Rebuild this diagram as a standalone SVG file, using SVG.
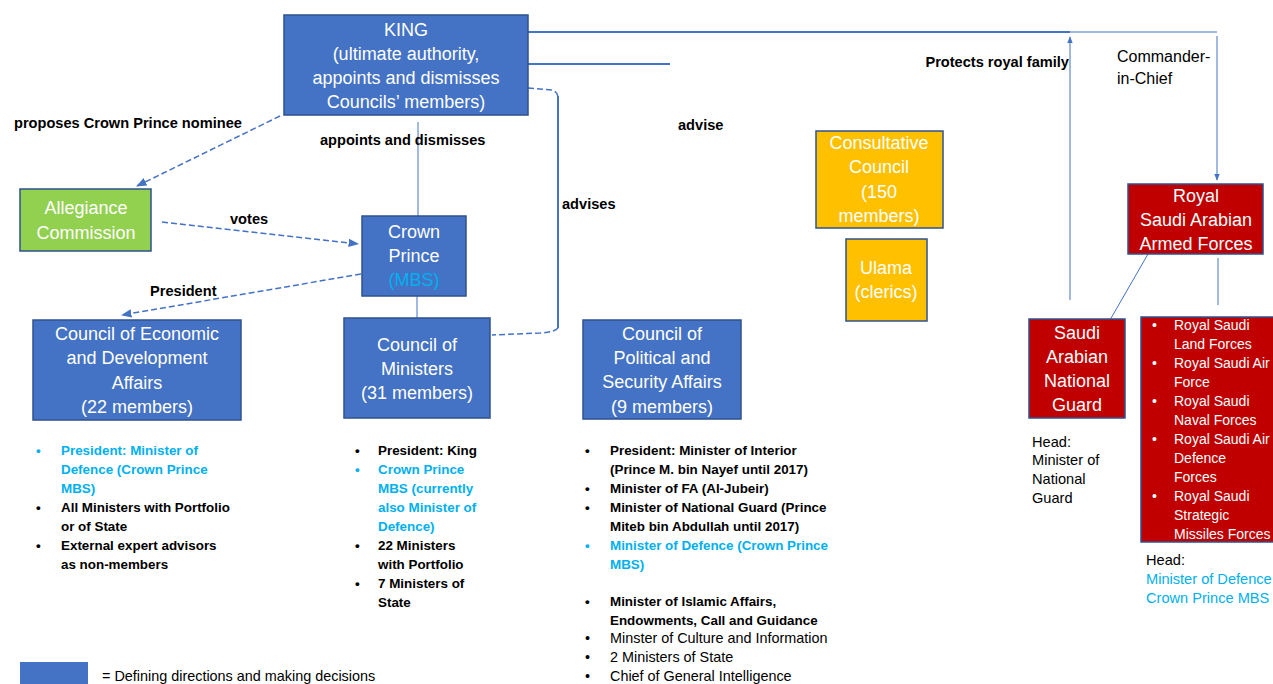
<svg xmlns="http://www.w3.org/2000/svg" width="1273" height="684" viewBox="0 0 1273 684">
<defs>
<style>
.box{fill:#4472C4;stroke:#2F528F;stroke-width:1.5}
.green{fill:#92D050;stroke:#2F528F;stroke-width:1.5}
.orange{fill:#FFC000;stroke:#2F528F;stroke-width:1.5}
.red{fill:#C00000;stroke:#2F528F;stroke-width:1.5}
.t{font-family:"Liberation Sans",Arial,sans-serif;font-size:18px;fill:#fff;text-anchor:middle}
.lbl{font-family:"Liberation Sans",Arial,sans-serif;font-size:14.6px;font-weight:bold;fill:#000}
.li{font-family:"Liberation Sans",Arial,sans-serif;font-size:13.4px;font-weight:bold;fill:#000}
.ln{font-family:"Liberation Sans",Arial,sans-serif;font-size:14.4px;fill:#000}
.hd{font-family:"Liberation Sans",Arial,sans-serif;font-size:14.6px;fill:#000}
.wl{font-family:"Liberation Sans",Arial,sans-serif;font-size:14px;fill:#fff}
.blue{fill:#00B0F0}
.c{fill:none;stroke:#4472C4;stroke-width:1}
.c2{fill:none;stroke:#4472C4;stroke-width:2}
.d{fill:none;stroke:#4472C4;stroke-width:1.5;stroke-dasharray:6 3}
</style>
<marker id="ah" viewBox="0 0 10 10" refX="9" refY="5" markerWidth="7" markerHeight="7" orient="auto-start-reverse">
<path d="M0,1 L10,5 L0,9 z" fill="#4472C4"/>
</marker>
</defs>
<rect width="1273" height="684" fill="#fff"/>

<g id="connectors">
<line class="c2" x1="528" y1="32" x2="1070" y2="32"/>
<line class="c" x1="1070" y1="32" x2="1217" y2="32"/>
<line class="c2" x1="528" y1="64" x2="670" y2="64"/>
<line class="c" x1="1070" y1="300" x2="1070" y2="37" marker-end="url(#ah)"/>
<line class="c" x1="1217" y1="36" x2="1217" y2="180" marker-end="url(#ah)"/>
<path class="d" d="M528,88 L552,90 Q558,92 558,98"/>
<line class="c2" x1="558" y1="96" x2="558" y2="328"/>
<path class="d" d="M558,328 Q555,332 540,333 L492,335"/>
<line class="c" x1="418" y1="122" x2="418" y2="216"/>
<line class="c" x1="417" y1="296" x2="417" y2="318"/>
<line class="d" x1="280" y1="116" x2="137" y2="186" marker-end="url(#ah)"/>
<line class="d" x1="162" y1="222" x2="358" y2="244" marker-end="url(#ah)"/>
<line class="d" x1="361" y1="274" x2="122" y2="315" marker-end="url(#ah)"/>
<line class="c" x1="1148" y1="254" x2="1110" y2="320"/>
<line class="c" x1="1218" y1="258" x2="1218" y2="305"/>
</g>

<g id="labels">
<text class="lbl" x="14" y="128">proposes Crown Prince nominee</text>
<text class="lbl" x="320" y="145">appoints and dismisses</text>
<text class="lbl" x="678" y="130">advise</text>
<text class="lbl" x="562" y="209">advises</text>
<text class="lbl" x="230" y="224">votes</text>
<text class="lbl" x="150" y="296">President</text>
<text class="lbl" x="1069" y="67" text-anchor="end">Protects royal family</text>
<text class="hd" x="1117" y="62" style="font-size:16px">Commander-</text>
<text class="hd" x="1117" y="84" style="font-size:16px">in-Chief</text>
</g>

<g id="king">
<rect class="box" x="284" y="15" width="244" height="100"/>
<text class="t" x="406" y="36">KING</text>
<text class="t" x="406" y="60">(ultimate authority,</text>
<text class="t" x="406" y="84">appoints and dismisses</text>
<text class="t" x="406" y="108">Councils’ members)</text>
</g>

<g id="allegiance">
<rect class="green" x="20" y="189" width="131" height="62"/>
<text class="t" x="86" y="214">Allegiance</text>
<text class="t" x="86" y="239">Commission</text>
</g>

<g id="crownprince">
<rect class="box" x="362" y="216" width="104" height="80"/>
<text class="t" x="414" y="238">Crown</text>
<text class="t" x="414" y="262">Prince</text>
<text class="t" x="414" y="286" style="fill:#00B0F0">(MBS)</text>
</g>

<g id="ceda">
<rect class="box" x="33" y="320" width="208" height="100"/>
<text class="t" x="137" y="340">Council of Economic</text>
<text class="t" x="137" y="364">and Development</text>
<text class="t" x="137" y="389">Affairs</text>
<text class="t" x="137" y="413">(22 members)</text>
</g>

<g id="ministers">
<rect class="box" x="344" y="318" width="146" height="100"/>
<text class="t" x="417" y="351">Council of</text>
<text class="t" x="417" y="375">Ministers</text>
<text class="t" x="417" y="399">(31 members)</text>
</g>

<g id="cpsa">
<rect class="box" x="583" y="320" width="158" height="99"/>
<text class="t" x="662" y="340">Council of</text>
<text class="t" x="662" y="364">Political and</text>
<text class="t" x="662" y="388">Security Affairs</text>
<text class="t" x="662" y="413">(9 members)</text>
</g>

<g id="consultative">
<rect class="orange" x="816" y="131" width="127" height="97"/>
<text class="t" x="879" y="149">Consultative</text>
<text class="t" x="879" y="173">Council</text>
<text class="t" x="879" y="198">(150</text>
<text class="t" x="879" y="222">members)</text>
</g>

<g id="ulama">
<rect class="orange" x="846" y="239" width="81" height="82"/>
<text class="t" x="886" y="274">Ulama</text>
<text class="t" x="886" y="298">(clerics)</text>
</g>

<g id="armedforces">
<rect class="red" x="1128" y="184" width="135" height="70"/>
<text class="t" x="1196" y="202">Royal</text>
<text class="t" x="1196" y="226">Saudi Arabian</text>
<text class="t" x="1196" y="250">Armed Forces</text>
</g>

<g id="nationalguard">
<rect class="red" x="1029" y="319" width="96" height="99"/>
<text class="t" x="1077" y="339">Saudi</text>
<text class="t" x="1077" y="363">Arabian</text>
<text class="t" x="1077" y="387">National</text>
<text class="t" x="1077" y="411">Guard</text>
<text class="hd" x="1032" y="447">Head:</text>
<text class="hd" x="1032" y="465">Minister of</text>
<text class="hd" x="1032" y="484">National</text>
<text class="hd" x="1032" y="503">Guard</text>
</g>

<g id="forceslist">
<rect class="red" x="1141" y="317" width="134" height="225"/>
<g class="wl">
<text x="1152" y="330">•</text><text x="1174" y="330">Royal Saudi</text>
<text x="1174" y="349">Land Forces</text>
<text x="1152" y="368">•</text><text x="1174" y="368">Royal Saudi Air</text>
<text x="1174" y="387">Force</text>
<text x="1152" y="406">•</text><text x="1174" y="406">Royal Saudi</text>
<text x="1174" y="425">Naval Forces</text>
<text x="1152" y="444">•</text><text x="1174" y="444">Royal Saudi Air</text>
<text x="1174" y="463">Defence</text>
<text x="1174" y="482">Forces</text>
<text x="1152" y="501">•</text><text x="1174" y="501">Royal Saudi</text>
<text x="1174" y="520">Strategic</text>
<text x="1174" y="539">Missiles Forces</text>
</g>
<text class="hd" x="1146" y="565">Head:</text>
<text class="hd blue" x="1146" y="584">Minister of Defence</text>
<text class="hd blue" x="1146" y="603">Crown Prince MBS</text>
</g>

<g id="ceda-list">
<text class="li blue" x="36" y="455">•</text><text class="li blue" x="61" y="455">President: Minister of</text>
<text class="li blue" x="61" y="474">Defence (Crown Prince</text>
<text class="li blue" x="61" y="493">MBS)</text>
<text class="li" x="36" y="512">•</text><text class="li" x="61" y="512">All Ministers with Portfolio</text>
<text class="li" x="61" y="531">or of State</text>
<text class="li" x="36" y="550">•</text><text class="li" x="61" y="550">External expert advisors</text>
<text class="li" x="61" y="569">as non-members</text>
</g>

<g id="ministers-list">
<text class="li" x="355" y="455">•</text><text class="li" x="378" y="455">President: King</text>
<text class="li blue" x="355" y="474">•</text><text class="li blue" x="378" y="474">Crown Prince</text>
<text class="li blue" x="378" y="493">MBS (currently</text>
<text class="li blue" x="378" y="512">also Minister of</text>
<text class="li blue" x="378" y="531">Defence)</text>
<text class="li" x="355" y="550">•</text><text class="li" x="378" y="550">22 Ministers</text>
<text class="li" x="378" y="569">with Portfolio</text>
<text class="li" x="355" y="588">•</text><text class="li" x="378" y="588">7 Ministers of</text>
<text class="li" x="378" y="607">State</text>
</g>

<g id="cpsa-list">
<text class="li" x="585" y="455">•</text><text class="li" x="610" y="455">President: Minister of Interior</text>
<text class="li" x="610" y="474">(Prince M. bin Nayef until 2017)</text>
<text class="li" x="585" y="493">•</text><text class="li" x="610" y="493">Minister of FA (Al-Jubeir)</text>
<text class="li" x="585" y="512">•</text><text class="li" x="610" y="512">Minister of National Guard (Prince</text>
<text class="li" x="610" y="531">Miteb bin Abdullah until 2017)</text>
<text class="li blue" x="585" y="550">•</text><text class="li blue" x="610" y="550">Minister of Defence (Crown Prince</text>
<text class="li blue" x="610" y="569">MBS)</text>
<text class="li" x="585" y="606">•</text><text class="li" x="610" y="606">Minister of Islamic Affairs,</text>
<text class="li" x="610" y="625">Endowments, Call and Guidance</text>
<text class="ln" x="585" y="643">•</text><text class="ln" x="610" y="643">Minster of Culture and Information</text>
<text class="ln" x="585" y="662">•</text><text class="ln" x="610" y="662">2 Ministers of State</text>
<text class="ln" x="585" y="681">•</text><text class="ln" x="610" y="681">Chief of General Intelligence</text>
</g>

<g id="legend">
<rect x="20" y="662" width="68" height="24" fill="#4472C4"/>
<text class="ln" x="102" y="681">= Defining directions and making decisions</text>
</g>
</svg>
